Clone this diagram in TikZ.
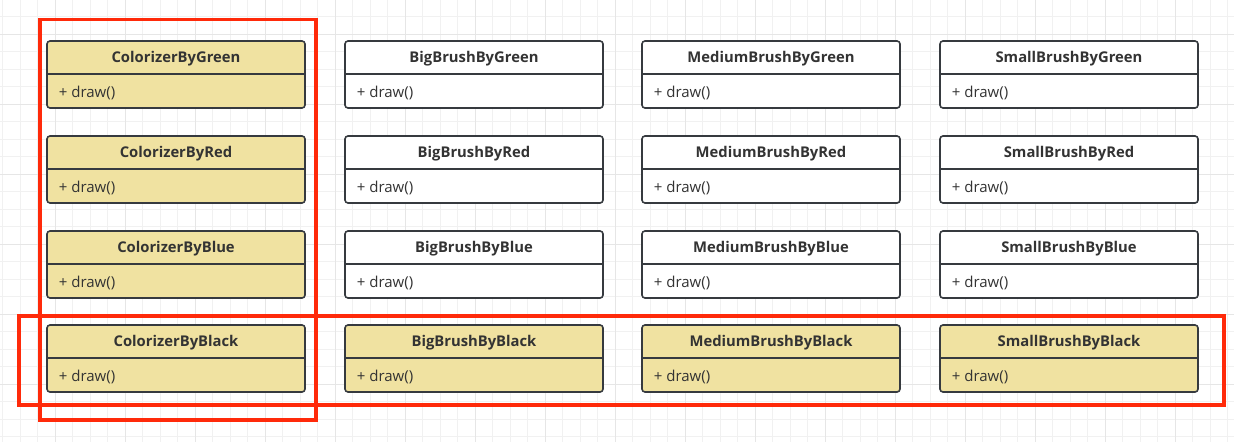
\documentclass[tikz,border=0pt]{standalone}
\usepackage{fontspec}
\setmainfont{Open Sans}
\usetikzlibrary{calc}
\definecolor{gridminor}{HTML}{F1F1F1}
\definecolor{gridmajor}{HTML}{E6E6E6}
\definecolor{boxline}{HTML}{363A3F}
\definecolor{boxyellow}{HTML}{F0E2A1}
\definecolor{txt}{HTML}{333333}
\definecolor{frame}{HTML}{FF2A0A}
\tikzset{
  umlbox/.style={draw=boxline, line width=1.6pt, rounded corners=3pt, minimum width=258pt, minimum height=67pt, inner sep=0pt},
  hdr/.style={font=\fontsize{14.8}{17}\selectfont\bfseries, text=txt, inner sep=0pt},
  attr/.style={font=\fontsize{15}{17}\selectfont, text=txt, inner sep=0pt, anchor=west},
  divline/.style={draw=boxline, line width=1.6pt},
  redframe/.style={draw=frame, line width=3.2pt},
}
\newcommand{\umlclass}[5]{%
  \node[umlbox, fill=#5] (#1) at (#2,#3) {};
  \node[hdr] (#1h) at ($(#1.north)+(0,18.8)$) {#4};
  \draw[divline] ([yshift=-34pt]#1.north west) -- ([yshift=-34pt]#1.north east);
  \node[attr] (#1a) at ($(#1.south west)+(12.5,-15.5)$) {+ draw()};
}
\begin{document}
\begin{tikzpicture}[x=1pt,y=-1pt]
\fill[white] (0,0) rectangle (1234,442);
\useasboundingbox (0,0) rectangle (1234,442);
% grid
\foreach \i in {0,...,70} { \draw[gridminor, line width=1pt] ({2.5+17.5*\i},0) -- ({2.5+17.5*\i},442); }
\foreach \j in {0,...,26} { \draw[gridminor, line width=1pt] (0,{-1+17.5*\j}) -- (1234,{-1+17.5*\j}); }
\foreach \i in {0,...,17} { \draw[gridmajor, line width=1pt] ({55+70*\i},0) -- ({55+70*\i},442); }
\foreach \j in {0,...,6} { \draw[gridmajor, line width=1pt] (0,{34+70*\j}) -- (1234,{34+70*\j}); }
% boxes
\umlclass{cg}{176}{74.5}{ColorizerByGreen}{boxyellow}
\umlclass{bg}{474}{74.5}{BigBrushByGreen}{white}
\umlclass{mg}{771}{74.5}{MediumBrushByGreen}{white}
\umlclass{sg}{1069}{74.5}{SmallBrushByGreen}{white}
\umlclass{cr}{176}{169.5}{ColorizerByRed}{boxyellow}
\umlclass{br}{474}{169.5}{BigBrushByRed}{white}
\umlclass{mr}{771}{169.5}{MediumBrushByRed}{white}
\umlclass{sr}{1069}{169.5}{SmallBrushByRed}{white}
\umlclass{cb}{176}{264.5}{ColorizerByBlue}{boxyellow}
\umlclass{bb}{474}{264.5}{BigBrushByBlue}{white}
\umlclass{mb}{771}{264.5}{MediumBrushByBlue}{white}
\umlclass{sb}{1069}{264.5}{SmallBrushByBlue}{white}
\umlclass{ck}{176}{358.5}{ColorizerByBlack}{boxyellow}
\umlclass{bk}{474}{358.5}{BigBrushByBlack}{boxyellow}
\umlclass{mk}{771}{358.5}{MediumBrushByBlack}{boxyellow}
\umlclass{sk}{1069}{358.5}{SmallBrushByBlack}{boxyellow}
% red frames
\draw[redframe] (40,19.5) rectangle (316,420);
\draw[redframe] (19,316) rectangle (1224,405);
\end{tikzpicture}
\end{document}
